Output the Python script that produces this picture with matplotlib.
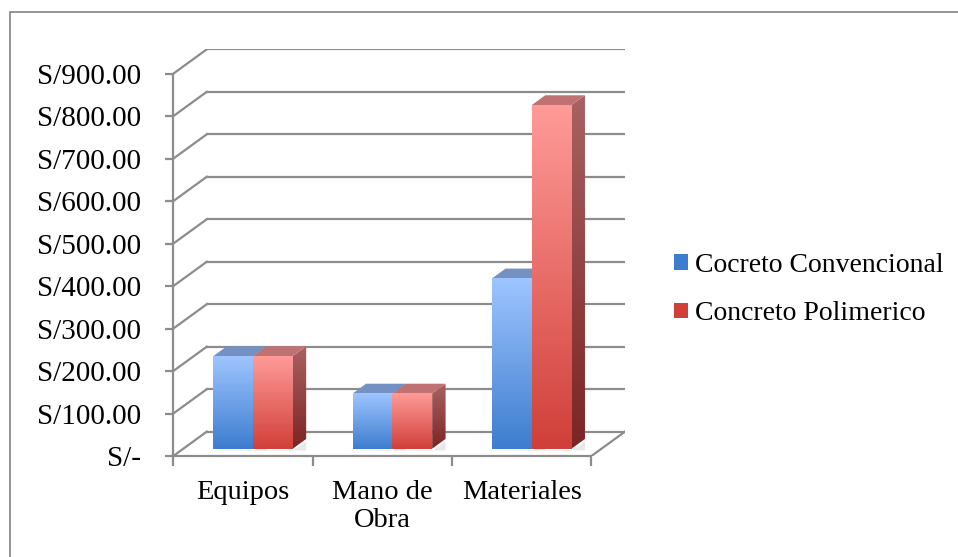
import numpy as np
import matplotlib
matplotlib.use('Agg')
import matplotlib.pyplot as plt
from matplotlib.patches import Polygon, Rectangle
from matplotlib.colors import LinearSegmentedColormap

categories = ['Equipos', 'Mano de\nObra', 'Materiales']
series_names = ['Cocreto Convencional', 'Concreto Polimerico']
convencional = [218, 130, 401]
polimerico = [218, 130, 809]
yticks = [0, 100, 200, 300, 400, 500, 600, 700, 800, 900]
ytick_labels = ['S/-', 'S/100.00', 'S/200.00', 'S/300.00', 'S/400.00',
                'S/500.00', 'S/600.00', 'S/700.00', 'S/800.00', 'S/900.00']

# depth of the 3d box in data units (x in categories, y in value)
DX, DY = 0.2405, 57.4
grid_col = '#8c8c8c'

front_cols = [('#9ec5ff', '#3d7dcf'), ('#ff9b98', '#d03f39')]
side_cols = [('#6f8fc0', '#2f5e9c'), ('#a86262', '#7c2424')]
top_cols = ['#7391c2', '#c07272']

plt.rcParams['font.family'] = ['Liberation Serif', 'DejaVu Serif']

fig = plt.figure(figsize=(9.58, 5.57), dpi=100)
# chart frame (right and bottom edges fall outside the picture)
fig.patches.append(Rectangle((9.5 / 958, -0.1), 2.0, 1.1 - 12 / 557, transform=fig.transFigure,
                             fill=False, edgecolor='#8c8c8c', lw=1.3))

ax = fig.add_axes([173.3 / 958, 101 / 557, 451.7 / 958, 406.7 / 557])
ax.set_xlim(0, 3 + DX)
ax.set_ylim(0, 900 + DY)
ax.patch.set_alpha(0)

# back wall, left wall and floor
for v in yticks:
    ax.plot([DX, 3 + DX], [v + DY, v + DY], color=grid_col, lw=1.6, zorder=1)
    ax.plot([0, DX], [v, v + DY], color=grid_col, lw=1.6, zorder=1)
ax.plot([3, 3 + DX], [0, DY], color=grid_col, lw=1.6, zorder=1)


def gradient(x0, x1, y0, y1, c_top, c_bot, clip=None, z=3):
    cmap = LinearSegmentedColormap.from_list('g', [c_bot, c_top])
    g = np.linspace(0, 1, 256).reshape(-1, 1)
    im = ax.imshow(g, cmap=cmap, extent=[x0, x1, y0, y1], origin='lower',
                   aspect='auto', interpolation='bilinear', zorder=z)
    if clip is not None:
        ax.add_patch(clip)
        im.set_clip_path(clip)


w = 0.285
f0, f1 = 0.3, 0.7
for i in range(len(categories)):
    for s, vals in enumerate([convencional, polimerico]):
        v = vals[i]
        x0 = i + 0.5 - w + s * w + f0 * DX
        x1 = x0 + w
        y0 = f0 * DY
        ddx, ddy = (f1 - f0) * DX, (f1 - f0) * DY
        # shadow
        ax.add_patch(Polygon([(x0 - 0.03, y0 - 4), (x1 + ddx, y0 - 4), (x1 + ddx, y0 + ddy - 6), (x1, y0 - 6)],
                             closed=True, facecolor='#d9d9d9', edgecolor='none', alpha=0.6, zorder=2))
        # side face
        side = Polygon([(x1, y0), (x1 + ddx, y0 + ddy), (x1 + ddx, y0 + ddy + v), (x1, y0 + v)],
                       closed=True, facecolor='none', edgecolor='none', zorder=3)
        gradient(x1, x1 + ddx, y0, y0 + ddy + v, side_cols[s][0], side_cols[s][1], clip=side, z=3)
        # top face
        ax.add_patch(Polygon([(x0, y0 + v), (x1, y0 + v), (x1 + ddx, y0 + ddy + v), (x0 + ddx, y0 + ddy + v)],
                             closed=True, facecolor=top_cols[s], edgecolor='none', zorder=3 + s))
        # front face
        gradient(x0, x1, y0, y0 + v, front_cols[s][0], front_cols[s][1], z=4 + s)

# front axes
for sp in ['top', 'right']:
    ax.spines[sp].set_visible(False)
ax.spines['left'].set_bounds(0, 900)
ax.spines['bottom'].set_bounds(0, 3)
for sp in ['left', 'bottom']:
    ax.spines[sp].set_color(grid_col)
    ax.spines[sp].set_linewidth(1.6)
    ax.spines[sp].set_zorder(6)

ax.set_yticks(yticks)
ax.set_yticklabels(ytick_labels, fontsize=21)
ax.tick_params(axis='y', length=6, width=1.6, color=grid_col, pad=17)
ax.set_xticks([0, 1, 2, 3], minor=True)
ax.tick_params(axis='x', which='minor', length=7, width=1.6, color=grid_col)
ax.set_xticks([0.5, 1.5, 2.5])
ax.set_xticklabels(categories, fontsize=20.5, linespacing=1.2)
ax.tick_params(axis='x', which='major', length=0, pad=17)

# legend
handles = [Rectangle((0, 0), 1, 1, facecolor=c[1]) for c in front_cols]
ax.legend(handles, series_names, loc='center left', bbox_to_anchor=(674 / 958, (557 - 289.5) / 557),
          bbox_transform=fig.transFigure, frameon=False, fontsize=20, handlelength=0.5,
          handleheight=0.5, handletextpad=0.25, labelspacing=0.85, borderpad=0, borderaxespad=0)

fig.savefig('out.png', dpi=100, facecolor='white')
